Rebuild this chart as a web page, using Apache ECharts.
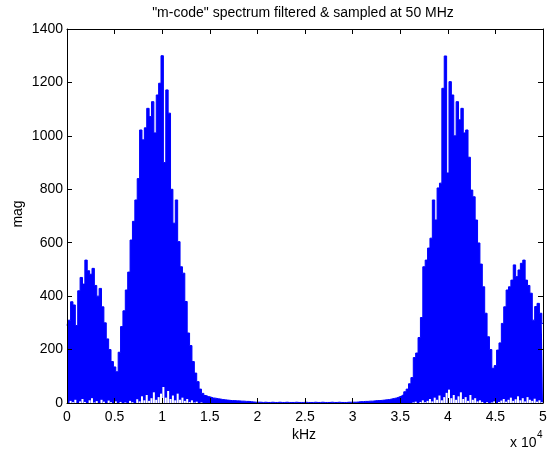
<!DOCTYPE html>
<html><head><meta charset="utf-8">
<script src="https://cdn.jsdelivr.net/npm/echarts@6/dist/echarts.min.js"></script>
<style>html,body{margin:0;padding:0;background:#fff}#c{width:550px;height:452px}</style>
</head><body><div id="c"></div>
<script>
// sample spacing along the frequency axis (axis shown in units of x 10^4)
const freqStep = 250;
// upper envelope of the spectrum magnitude, one value per freqStep, 0 .. 50000
const peakMag = [
  290, 310, 379, 367, 290, 420, 470, 445, 535, 495,
  482, 504, 440, 400, 429, 360, 300, 240, 200, 155,
  135, 117, 190, 286, 345, 423, 490, 610, 680, 760,
  840, 1022, 985, 1030, 1103, 1072, 1128, 1011, 1153, 1197,
  1300, 900, 1172, 1085, 800, 673, 760, 604, 510, 486,
  380, 262, 215, 155, 112, 80, 52, 36, 28, 24,
  22, 19, 18, 16, 15, 13, 12, 11, 10, 9,
  9, 8, 8, 7, 7, 6, 6, 5, 4, 3,
  3, 3, 2, 3, 2, 2, 3, 2, 2, 3,
  2, 2, 3, 2, 2, 2, 3, 2, 2, 2,
  3, 2, 2, 2, 3, 2, 2, 3, 2, 2,
  2, 3, 2, 2, 3, 2, 2, 2, 3, 3,
  3, 3, 4, 5, 5, 6, 6, 7, 7, 8,
  9, 9, 10, 11, 12, 13, 15, 17, 19, 22,
  26, 32, 42, 52, 72, 95, 170, 187, 245, 320,
  510, 535, 580, 617, 760, 685, 805, 823, 1178, 1299,
  861, 1203, 1153, 1000, 1128, 1060, 1103, 1011, 1022, 920,
  797, 772, 685, 599, 520, 435, 336, 248, 200, 130,
  140, 198, 225, 298, 360, 423, 435, 460, 517, 473,
  498, 523, 535, 460, 440, 411, 310, 361, 373, 336,
  298
];
// lower envelope (minimum between peaks), offset half a step
const troughMag = [
  0, 8, 3, 12, 0, 6, 15, 4, 0, 10,
  18, 2, 7, 0, 12, 5, 0, 9, 3, 0,
  6, 0, 4, 0, 2, 0, 8, 3, 0, 14,
  6, 25, 10, 30, 8, 18, 40, 12, 22, 35,
  60, 20, 45, 15, 28, 10, 35, 12, 20, 8,
  15, 4, 10, 2, 5, 0, 2, 0, 0, 0,
  0, 0, 0, 0, 0, 0, 0, 0, 0, 0,
  0, 0, 0, 0, 0, 0, 0, 0, 0, 0,
  0, 0, 0, 0, 0, 0, 0, 0, 0, 0,
  0, 0, 0, 0, 0, 0, 0, 0, 0, 0,
  0, 0, 0, 0, 0, 0, 0, 0, 0, 0,
  0, 0, 0, 0, 0, 0, 0, 0, 0, 0,
  0, 0, 0, 0, 0, 0, 0, 0, 0, 0,
  0, 0, 0, 0, 0, 0, 0, 0, 0, 0,
  0, 0, 0, 0, 0, 2, 5, 0, 4, 10,
  3, 8, 15, 6, 20, 12, 28, 10, 22, 38,
  50, 18, 30, 12, 25, 40, 15, 22, 8, 30,
  12, 18, 6, 10, 4, 0, 3, 0, 2, 6,
  0, 4, 9, 15, 5, 12, 20, 8, 14, 25,
  10, 18, 6, 22, 12, 8, 16, 5, 10, 3,
  0
];
const xMin = 0, xMax = 50000, xInterval = 5000;
const yMin = 0, yMax = 1400, yInterval = 200;
const titleText = '"m-code" spectrum filtered & sampled at 50 MHz';
const xName = 'kHz', yName = 'mag';

const FONT = '"Liberation Sans", Arial, Helvetica, sans-serif';
const FS = 14;
const peakData = peakMag.map((v, i) => [i * freqStep, v]);
const troughData = troughMag.map((v, i) => [i * freqStep + freqStep / 2, v]);

const axisCommon = {
  type: 'value', z: 10, splitLine: { show: false },
  axisLine: { show: true, onZero: false, lineStyle: { color: '#000', width: 1 } },
  axisTick: { show: true, inside: true, length: 5, lineStyle: { color: '#000' } }
};
const chart = echarts.init(document.getElementById('c'), null, { renderer: 'canvas' });
chart.setOption({
  animation: false,
  backgroundColor: '#fff',
  grid: { left: 67, right: 7, top: 29, bottom: 49, containLabel: false },
  xAxis: [
    Object.assign({}, axisCommon, {
      position: 'bottom', min: xMin, max: xMax, interval: xInterval,
      axisLabel: { show: true, color: '#000', fontSize: FS, fontFamily: FONT, margin: 7,
        formatter: v => String(v / 10000) }
    }),
    Object.assign({}, axisCommon, {
      position: 'top', min: xMin, max: xMax, interval: xInterval, axisLabel: { show: false }
    })
  ],
  yAxis: [
    Object.assign({}, axisCommon, {
      position: 'left', min: yMin, max: yMax, interval: yInterval,
      axisLabel: { show: true, color: '#000', fontSize: FS, fontFamily: FONT, margin: 4,
        formatter: v => String(v) }
    }),
    Object.assign({}, axisCommon, {
      position: 'right', min: yMin, max: yMax, interval: yInterval, axisLabel: { show: false }
    })
  ],
  series: [
    {
      type: 'line', data: peakData, step: 'middle', symbol: 'none', z: 2,
      lineStyle: { color: '#0000ff', width: 1 },
      areaStyle: { color: '#0000ff', opacity: 1 }
    },
    {
      type: 'bar', data: troughData, barWidth: 2, z: 3, silent: true,
      itemStyle: { color: '#ffffff' }
    }
  ],
  graphic: [
    { type: 'text', x: 303, y: 13, style: { text: titleText, fill: '#000', font: FS + 'px ' + FONT, textAlign: 'center', textVerticalAlign: 'middle' } },
    { type: 'text', x: 304, y: 435, style: { text: xName, fill: '#000', font: FS + 'px ' + FONT, textAlign: 'center', textVerticalAlign: 'middle' } },
    { type: 'text', x: 18, y: 214, rotation: Math.PI / 2, style: { text: yName, fill: '#000', font: FS + 'px ' + FONT, textAlign: 'center', textVerticalAlign: 'middle' } },
    { type: 'text', x: 510, y: 443, style: { text: 'x 10', fill: '#000', font: FS + 'px ' + FONT, textAlign: 'left', textVerticalAlign: 'middle' } },
    { type: 'text', x: 537, y: 435, style: { text: '4', fill: '#000', font: '10px ' + FONT, textAlign: 'left', textVerticalAlign: 'middle' } }
  ]
});
</script>
</body></html>
